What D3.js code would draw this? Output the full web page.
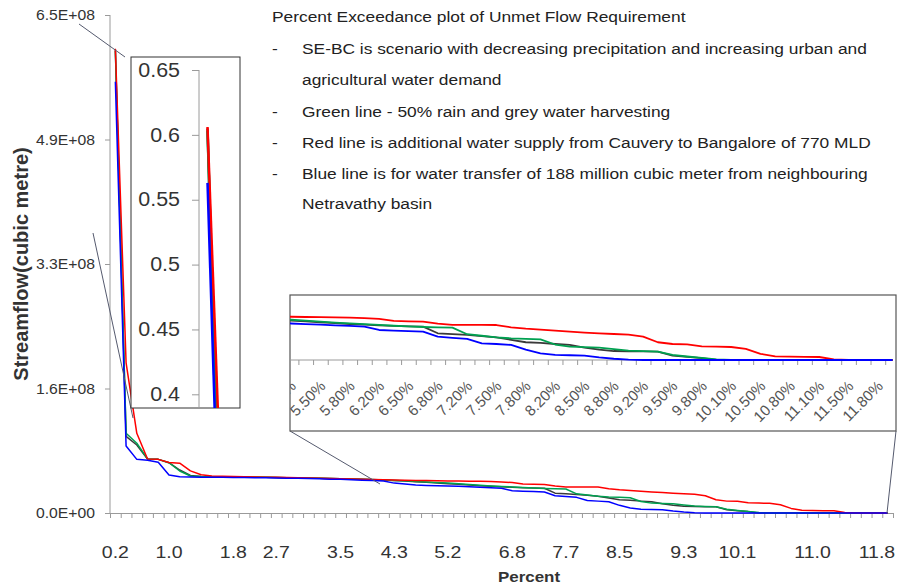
<!DOCTYPE html>
<html><head><meta charset="utf-8">
<script src="https://cdn.jsdelivr.net/npm/d3@7"></script>
<style>
body{margin:0;background:#fff;}
svg{display:block;font-family:"Liberation Sans",Arial,Helvetica,sans-serif;}
</style></head><body>
<svg id="chart" width="902" height="584"></svg>
<script>
// ---------------- data ----------------
const percentCats = ["0.2","0.4","0.5","0.7","0.8","1.0","1.1","1.3","1.4","1.6","1.7","1.8","2.0","2.2","2.5","2.7","2.8","3.0","3.1","3.3","3.4","3.5","3.7","3.8","4.0","4.2","4.3","4.5","4.7","4.8","5.0","5.2","5.5","5.7","6.0","6.3","6.5","6.8","7.0","7.2","7.3","7.5","7.7","7.8","8.0","8.2","8.3","8.5","8.7","8.8","9.0","9.1","9.2","9.3","9.5","9.7","9.8","10.0","10.1","10.3","10.4","10.5","10.6","10.7","10.8","11.0","11.1","11.3","11.4","11.5","11.7","11.8","11.9"];
const xTickLabels = ["0.2","1.0","1.8","2.7","3.5","4.3","5.2","6.8","7.7","8.5","9.3","10.1","11.0","11.8"];
const yTicks = [0, 1.625e8, 3.25e8, 4.875e8, 6.5e8];

const seBC = [6.05e8,1.00e8,0.888e8,0.705e8,0.70e8,0.656e8,0.561e8,0.489e8,0.476e8,0.474e8,
 0.472e8,0.470e8,0.469e8,0.468e8,0.465e8,0.462e8,0.460e8,0.457e8,0.455e8,0.452e8,
 0.449e8,0.447e8,0.443e8,0.439e8,0.435e8,0.430e8,0.423e8,0.417e8,0.408e8,0.400e8,
 0.392e8,0.382e8,0.375e8,0.366e8,0.357e8,0.349e8,0.342e8,0.336e8,0.330e8,0.326e8,
 0.323e8,0.259e8,0.250e8,0.243e8,0.232e8,0.220e8,0.195e8,0.172e8,0.165e8,0.155e8,
 0.146e8,0.120e8,0.100e8,0.087e8,0.085e8,0.083e8,0.081e8,0.042e8,0.030e8,0.018e8,
 0,0,0,0,0,0,0,0,0,0,
 0,0,0];
const greenHarvest = [6.03e8,1.04e8,0.91e8,0.705e8,0.70e8,0.656e8,0.548e8,0.483e8,0.476e8,0.474e8,
 0.472e8,0.471e8,0.470e8,0.469e8,0.466e8,0.463e8,0.461e8,0.458e8,0.456e8,0.453e8,
 0.450e8,0.448e8,0.444e8,0.440e8,0.436e8,0.431e8,0.425e8,0.420e8,0.412e8,0.405e8,
 0.398e8,0.390e8,0.382e8,0.372e8,0.362e8,0.354e8,0.347e8,0.340e8,0.332e8,0.325e8,
 0.320e8,0.317e8,0.314e8,0.250e8,0.235e8,0.220e8,0.210e8,0.205e8,0.200e8,0.150e8,
 0.129e8,0.125e8,0.120e8,0.105e8,0.090e8,0.086e8,0.082e8,0.050e8,0.034e8,0.020e8,
 0.005e8,0,0,0,0,0,0,0,0,0,
 0,0,0];
const redCauvery = [6.06e8,1.96e8,1.04e8,0.705e8,0.70e8,0.66e8,0.65e8,0.55e8,0.50e8,0.483e8,
 0.479e8,0.476e8,0.474e8,0.470e8,0.467e8,0.465e8,0.462e8,0.459e8,0.457e8,0.454e8,
 0.450e8,0.448e8,0.444e8,0.441e8,0.437e8,0.435e8,0.431e8,0.428e8,0.425e8,0.423e8,
 0.421e8,0.419e8,0.417e8,0.415e8,0.413e8,0.410e8,0.405e8,0.398e8,0.379e8,0.375e8,
 0.372e8,0.352e8,0.340e8,0.340e8,0.340e8,0.339e8,0.317e8,0.304e8,0.295e8,0.285e8,
 0.275e8,0.266e8,0.258e8,0.252e8,0.245e8,0.226e8,0.172e8,0.155e8,0.152e8,0.133e8,
 0.130e8,0.126e8,0.107e8,0.060e8,0.036e8,0.032e8,0.030e8,0.029e8,0.007e8,0,
 0,0,0];
const blueNetravathy = [5.63e8,0.874e8,0.70e8,0.688e8,0.662e8,0.496e8,0.474e8,0.470e8,0.467e8,0.466e8,
 0.465e8,0.463e8,0.462e8,0.461e8,0.459e8,0.457e8,0.454e8,0.452e8,0.449e8,0.446e8,
 0.442e8,0.439e8,0.433e8,0.428e8,0.423e8,0.418e8,0.390e8,0.380e8,0.365e8,0.360e8,
 0.357e8,0.354e8,0.348e8,0.342e8,0.336e8,0.330e8,0.323e8,0.291e8,0.285e8,0.280e8,
 0.275e8,0.226e8,0.215e8,0.204e8,0.162e8,0.155e8,0.146e8,0.100e8,0.065e8,0.050e8,
 0.046e8,0.043e8,0.025e8,0.012e8,0.003e8,0,0,0,0,0,
 0,0,0,0,0,0,0,0,0,0,
 0,0,0];

const seriesList = [
  {name:"SE-BC", values: seBC, color:"#3a3a3a"},
  {name:"Green", values: greenHarvest, color:"#00a050"},
  {name:"Red", values: redCauvery, color:"#ff0000"},
  {name:"Blue", values: blueNetravathy, color:"#0000ff"}
];

const insetYTicks = [0.4e9, 0.45e9, 0.5e9, 0.55e9, 0.6e9, 0.65e9];
const insetLabelCats = ["5.2","5.7","6.3","6.8","7.2","7.5","7.8","8.2","8.5","8.8","9.1","9.3","9.7","10.0","10.3","10.5","10.7","11.0","11.3","11.5","11.8"];
const insetXLabels = ["5.20%","5.50%","5.80%","6.20%","6.50%","6.80%","7.20%","7.50%","7.80%","8.20%","8.50%","8.80%","9.20%","9.50%","9.80%","10.10%","10.50%","10.80%","11.10%","11.50%","11.80%"];

const legendTitle = "Percent Exceedance plot of Unmet Flow Requirement";
const legendItems = [
  ["SE-BC is scenario with decreasing precipitation and increasing urban and", "agricultural water demand"],
  ["Green line - 50% rain and grey water harvesting"],
  ["Red line is additional water supply from Cauvery to Bangalore of 770 MLD"],
  ["Blue line is for water transfer of 188 million cubic meter from neighbouring", "Netravathy basin"]
];

// ---------------- chart ----------------
const svg = d3.select("#chart");
const axisColor = "#9a9a9a";
const L = 110, R = 893, T = 15, B = 513;

const x = d3.scaleBand().domain(percentCats).range([L, R]).padding(0);
const xIdx = d3.scaleLinear().domain([0, percentCats.length]).range([L, R]);
const y = d3.scaleLinear().domain([0, 6.5e8]).range([B, T]);
const cx = c => x(c) + x.bandwidth() / 2;

function sciFmt(d){
  const [m, e] = d.toExponential(1).split("e");
  return m + "E" + e[0] + e.slice(1).padStart(2, "0");
}

// y axis
const gy = svg.append("g").attr("transform", `translate(${L},0)`)
  .call(d3.axisLeft(y).tickValues(yTicks).tickFormat(sciFmt).tickSize(5).tickPadding(10));
gy.select(".domain").attr("stroke", axisColor).attr("d", `M0,${T}V${B}`);
gy.selectAll(".tick line").attr("stroke", axisColor);
gy.selectAll(".tick text").attr("font-size", 15).attr("fill", "#333")
  .attr("font-family", "Liberation Sans, Arial, sans-serif")
  .attr("x", -15 / 1.05).attr("transform", "scale(1.05,1)");

// x axis tick marks (category boundaries)
const gxT = svg.append("g").attr("transform", `translate(0,${B})`)
  .call(d3.axisBottom(xIdx).tickValues(d3.range(0, percentCats.length + 1)).tickFormat("").tickSize(5).tickSizeOuter(0));
gxT.select(".domain").attr("stroke", axisColor);
gxT.selectAll(".tick line").attr("stroke", axisColor);

// x axis labels
const gx = svg.append("g").attr("transform", `translate(0,${B})`)
  .call(d3.axisBottom(x).tickValues(xTickLabels).tickSize(0));
gx.select(".domain").remove();
gx.selectAll(".tick text").attr("font-size", 16).attr("fill", "#333")
  .attr("font-family", "Liberation Sans, Arial, sans-serif")
  .attr("y", 45).attr("dy", 0).attr("transform", "scale(1.22,1)");

// axis titles
svg.append("text").attr("x", 529 / 1.13).attr("y", 582).attr("transform", "scale(1.13,1)")
  .attr("text-anchor", "middle").attr("font-weight", "bold").attr("font-size", 15).attr("fill", "#333")
  .text("Percent");
svg.append("text").attr("transform", "translate(28,264) rotate(-90)")
  .attr("text-anchor", "middle").attr("font-weight", "bold").attr("font-size", 20).attr("fill", "#333")
  .text("Streamflow(cubic metre)");

// main lines
const line = d3.line().x((d, i) => cx(percentCats[i])).y(d => y(d));
svg.append("g").selectAll("path").data(seriesList).join("path")
  .attr("d", s => line(s.values)).attr("fill", "none")
  .attr("stroke", s => s.color).attr("stroke-width", 1.5).attr("stroke-linejoin", "round");

// connector lines
const connColor = "#555a6e";
[[79,24,125,57],[93,233,133,418],[290,431,380,484],[896,431,887,513]].forEach(c => {
  svg.append("line").attr("x1", c[0]).attr("y1", c[1]).attr("x2", c[2]).attr("y2", c[3])
    .attr("stroke", connColor).attr("stroke-width", 1);
});

// ---------------- inset 1 (top of curve) ----------------
const in1 = {x: 131, y: 57, w: 109, h: 351};
svg.append("defs").append("clipPath").attr("id", "clip1")
  .append("rect").attr("x", in1.x).attr("y", in1.y).attr("width", in1.w).attr("height", in1.h);
svg.append("rect").attr("x", in1.x).attr("y", in1.y).attr("width", in1.w).attr("height", in1.h)
  .attr("fill", "#fff").attr("stroke", "#333").attr("stroke-width", 1);
const ix1 = d3.scaleLinear().domain([0, 1]).range([207.5, 227]);
const iy1 = d3.scaleLinear().domain([0.4e9, 0.65e9]).range([394.3, 70]);
const gi1 = svg.append("g").attr("transform", "translate(199,0)")
  .call(d3.axisLeft(iy1).tickValues(insetYTicks).tickFormat(d => String(+(d / 1e9).toFixed(2))).tickSize(7).tickPadding(12));
gi1.select(".domain").attr("stroke", axisColor).attr("d", "M0,70V408");
gi1.selectAll(".tick line").attr("stroke", axisColor);
gi1.selectAll(".tick text").attr("font-size", 19.5).attr("fill", "#333")
  .attr("font-family", "Liberation Sans, Arial, sans-serif")
  .attr("x", -19 / 1.1).attr("transform", "scale(1.1,1)");
const line1 = d3.line().x((d, i) => ix1(i)).y(d => iy1(d));
svg.append("g").attr("clip-path", "url(#clip1)").selectAll("path").data(seriesList).join("path")
  .attr("d", s => line1(s.values.slice(0, 2))).attr("fill", "none")
  .attr("stroke", s => s.color).attr("stroke-width", 2.5);

// ---------------- inset 2 (tail) ----------------
const in2 = {x: 290, y: 295, w: 606, h: 136};
svg.select("defs").append("clipPath").attr("id", "clip2")
  .append("rect").attr("x", in2.x).attr("y", in2.y).attr("width", in2.w).attr("height", in2.h);
svg.append("rect").attr("x", in2.x).attr("y", in2.y).attr("width", in2.w).attr("height", in2.h)
  .attr("fill", "#fff").attr("stroke", "#555").attr("stroke-width", 1.2);
const ix2 = d3.scaleBand().domain(percentCats).range([-171.04, 899.87]).padding(0);
const ix2Idx = d3.scaleLinear().domain([0, percentCats.length]).range([-171.04, 899.87]);
const iy2 = d3.scaleLinear().domain([0, 0.63e8]).range([360, 295]);
const g2 = svg.append("g").attr("clip-path", "url(#clip2)");
const gt2 = g2.append("g").attr("transform", "translate(0,360)")
  .call(d3.axisBottom(ix2Idx).tickValues(d3.range(0, percentCats.length + 1)).tickFormat("").tickSize(5).tickSizeOuter(0));
gt2.select(".domain").attr("stroke", axisColor).attr("d", "M290,0H893");
gt2.selectAll(".tick line").attr("stroke", axisColor);
const gl2 = g2.append("g").attr("transform", "translate(0,360)")
  .call(d3.axisBottom(ix2).tickValues(insetLabelCats)
    .tickFormat(c => insetXLabels[insetLabelCats.indexOf(c)]).tickSize(0));
gl2.select(".domain").remove();
gl2.selectAll(".tick text").attr("font-size", 15).attr("fill", "#555")
  .attr("font-family", "Liberation Sans, Arial, sans-serif")
  .attr("text-anchor", "end").attr("x", 0).attr("y", 0).attr("dy", 0)
  .attr("transform", "translate(6,27) rotate(-45)");
const line2 = d3.line()
  .defined((d, i) => i >= 28)
  .x((d, i) => ix2(percentCats[i]) + ix2.bandwidth() / 2).y(d => iy2(d));
g2.append("g").selectAll("path").data(seriesList).join("path")
  .attr("d", s => line2(s.values))
  .attr("fill", "none").attr("stroke", s => s.color).attr("stroke-width", 1.8).attr("stroke-linejoin", "round");

// ---------------- legend text ----------------
const lg = svg.append("g").attr("transform", "translate(272,0) scale(1.12,1)")
  .attr("font-size", 15.5).attr("fill", "#222");
lg.append("text").attr("x", 0).attr("y", 22).text(legendTitle);
const baselines = [[54, 85], [117], [148], [179, 209]];
legendItems.forEach((item, k) => {
  lg.append("text").attr("x", 0).attr("y", baselines[k][0]).text("-");
  item.forEach((ln, j) => {
    lg.append("text").attr("x", 30 / 1.12).attr("y", baselines[k][j]).text(ln);
  });
});
</script>
</body></html>
